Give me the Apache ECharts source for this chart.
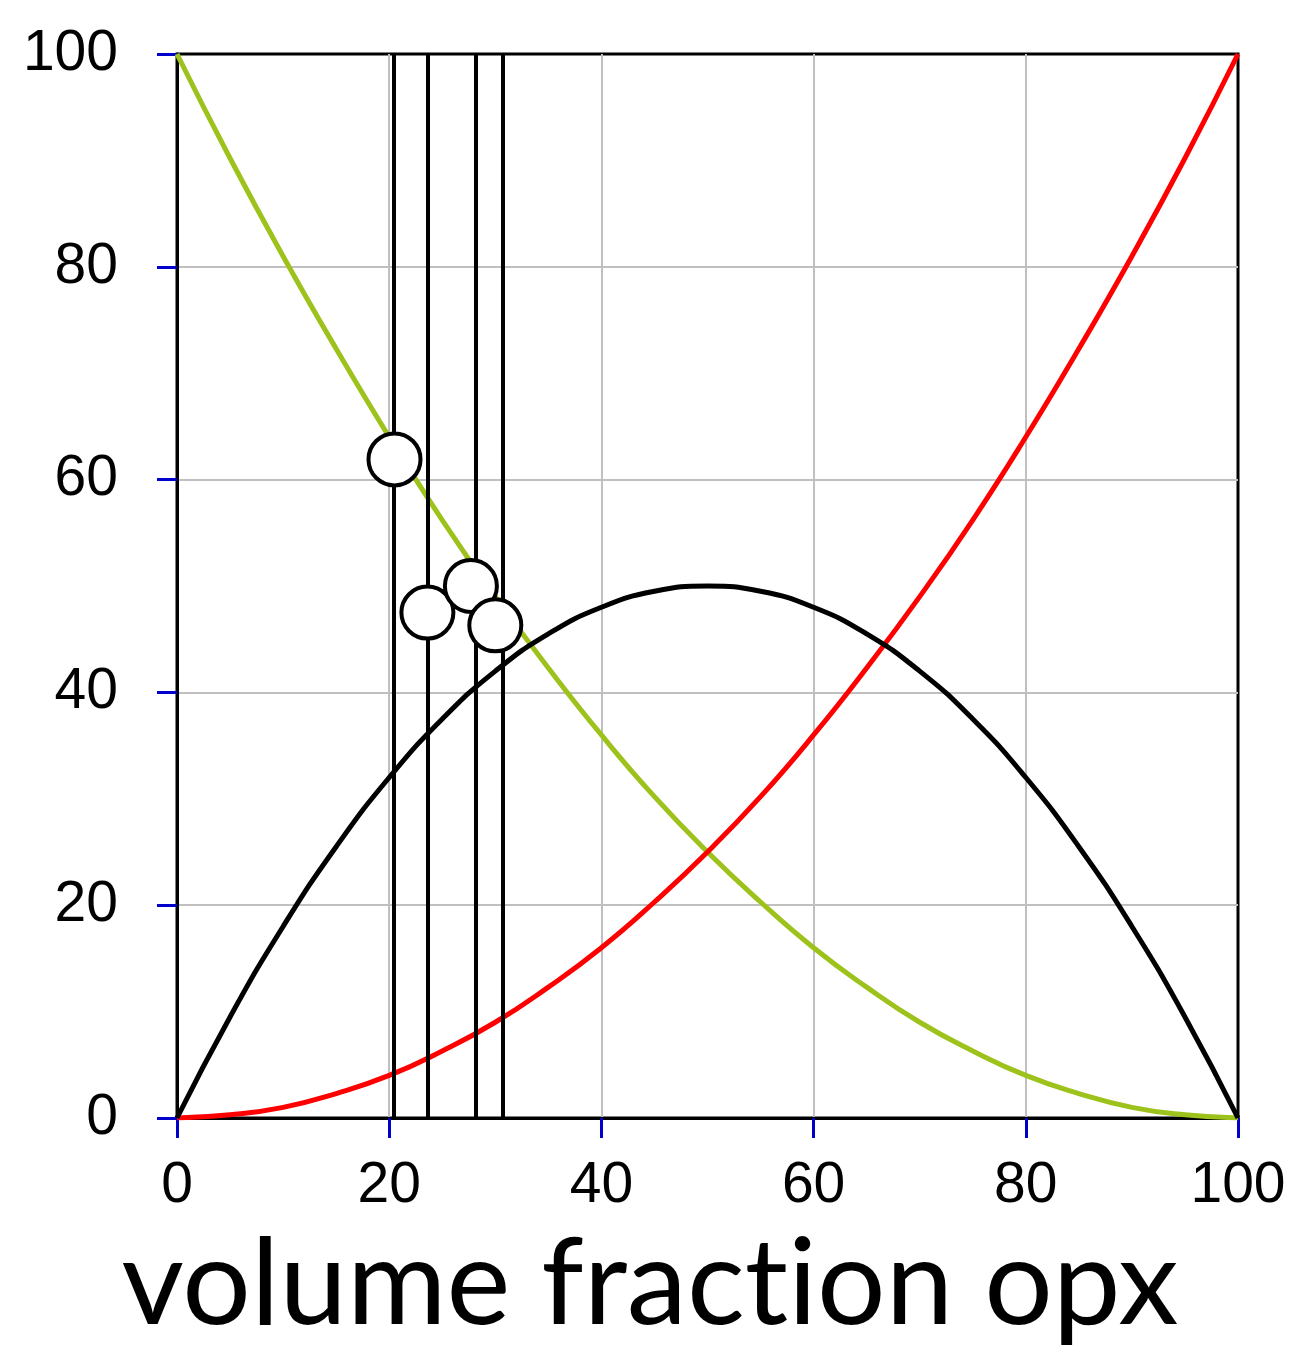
<!DOCTYPE html>
<html>
<head>
<meta charset="utf-8">
<script src="https://cdn.jsdelivr.net/npm/echarts@6/dist/echarts.min.js"></script>
<style>
  html, body { margin: 0; padding: 0; background: #fff; }
  #chart { width: 1292px; height: 1352px; }
</style>
</head>
<body>
<div id="chart"></div>
<script>
// x positions (volume fraction opx, %)
const xValues = [0, 5, 10, 15, 20, 25, 30, 35, 40, 45, 50, 55, 60, 65, 70, 75, 80, 85, 90, 95, 100];
// green curve (falls from 100 to 0)
const greenValues = [100, 90.2, 81, 72.3, 64, 56.2, 49, 42.3, 36, 30.2, 25, 20.3, 16, 12.3, 9, 6.3, 4, 2.3, 1, 0.3, 0];
// red curve (rises from 0 to 100)
const redValues = [0, 0.3, 1, 2.3, 4, 6.3, 9, 12.3, 16, 20.3, 25, 30.2, 36, 42.3, 49, 56.2, 64, 72.3, 81, 90.2, 100];
// black curve (arch, peak 50 at x=50)
const blackValues = [0, 9.5, 18, 25.5, 32, 37.5, 42, 45.5, 48, 49.5, 50, 49.5, 48, 45.5, 42, 37.5, 32, 25.5, 18, 9.5, 0];
// vertical marker lines
const verticalLines = [20.4, 23.6, 28.2, 30.7];
// open circles [x, y]
const circleX = [20.5, 23.6, 27.7, 30.0];
const circleY = [61.9, 47.5, 50.0, 46.3];

const chart = echarts.init(document.getElementById("chart"));

const pairs = vals => xValues.map((x, i) => [x, vals[i]]);

const option = {
  animation: false,
  backgroundColor: "#ffffff",
  grid: {
    left: 177,
    right: 54,
    top: 54,
    bottom: 234,
    show: true,
    borderColor: "#000000",
    borderWidth: 3,
  },
  xAxis: {
    type: "value",
    min: 0,
    max: 100,
    interval: 20,
    // split into pieces so the font's "ti" ligature is not used
    name: "{t|volume frac}{t|t}{t|ion opx}",
    nameLocation: "middle",
    nameGap: 106,
    nameTextStyle: {
      padding: [0, 115, 0, 0],
      rich: {
        t: { fontFamily: "Lato", fontSize: 121, color: "#000000" },
      },
    },
    axisLine: { show: true, lineStyle: { color: "#000000", width: 3 } },
    axisTick: { show: true, length: 20, lineStyle: { color: "#0000cc", width: 3 } },
    axisLabel: {
      margin: 40,
      fontFamily: "Liberation Sans",
      fontSize: 57,
      color: "#000000",
    },
    splitLine: {
      show: true,
      showMinLine: false,
      showMaxLine: false,
      lineStyle: { color: "#c0c0c0", width: 2 },
    },
  },
  yAxis: {
    type: "value",
    min: 0,
    max: 100,
    interval: 20,
    axisLine: { show: true, lineStyle: { color: "#000000", width: 3 } },
    axisTick: { show: true, length: 20, lineStyle: { color: "#0000cc", width: 3 } },
    axisLabel: {
      margin: 59,
      fontFamily: "Liberation Sans",
      fontSize: 57,
      color: "#000000",
    },
    splitLine: {
      show: true,
      showMinLine: false,
      showMaxLine: false,
      lineStyle: { color: "#c0c0c0", width: 2 },
    },
  },
  series: [
    {
      name: "green",
      type: "line",
      smooth: true,
      showSymbol: false,
      lineStyle: { color: "#9dc21b", width: 5 },
      data: pairs(greenValues),
      z: 2,
    },
    {
      name: "red",
      type: "line",
      smooth: true,
      showSymbol: false,
      lineStyle: { color: "#ff0000", width: 5 },
      data: pairs(redValues),
      z: 2,
    },
    {
      name: "black",
      type: "line",
      smooth: true,
      showSymbol: false,
      lineStyle: { color: "#000000", width: 5 },
      data: pairs(blackValues),
      z: 2,
    },
    {
      name: "markers",
      type: "line",
      data: [],
      z: 3,
      markLine: {
        silent: true,
        symbol: "none",
        label: { show: false },
        lineStyle: { color: "#000000", width: 4, type: "solid" },
        data: verticalLines.map(v => ({ xAxis: v })),
      },
    },
    {
      name: "circles",
      type: "scatter",
      symbol: "circle",
      symbolSize: 52,
      itemStyle: { color: "#ffffff", borderColor: "#000000", borderWidth: 4, opacity: 1 },
      data: circleX.map((x, i) => [x, circleY[i]]),
      z: 5,
    },
  ],
};

chart.setOption(option);
</script>
</body>
</html>
